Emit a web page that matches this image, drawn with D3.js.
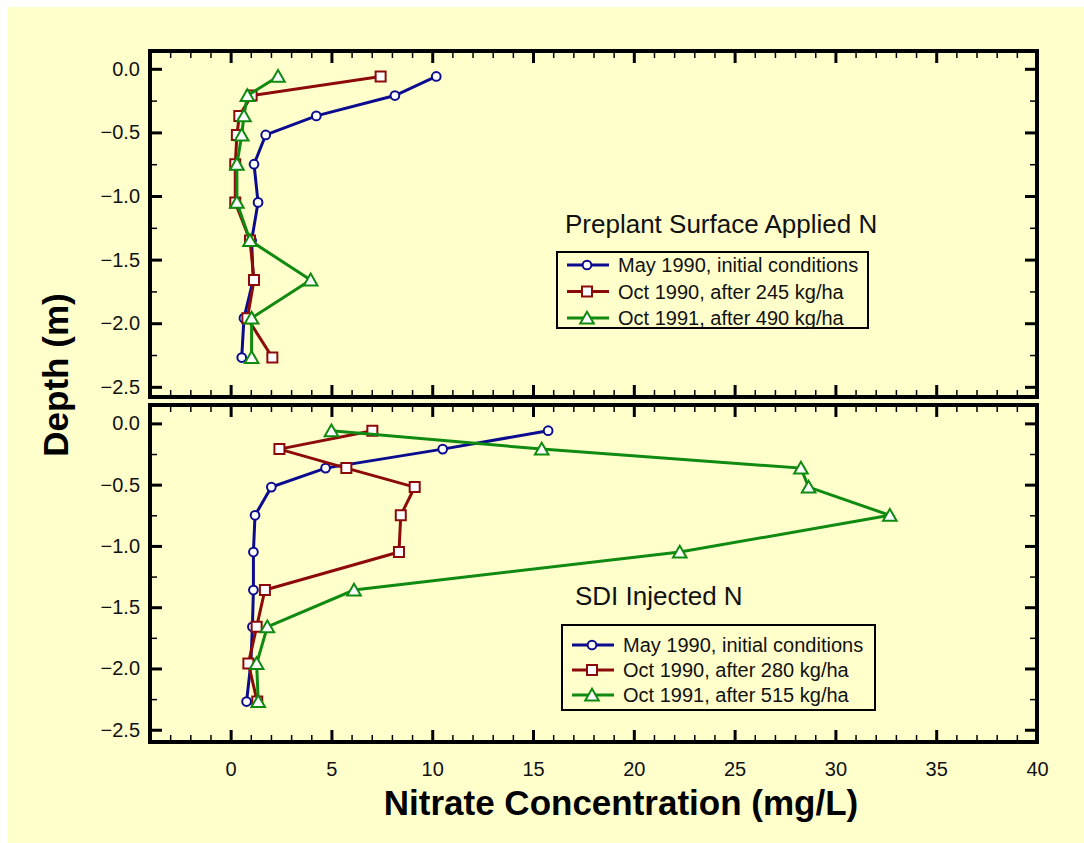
<!DOCTYPE html>
<html>
<head>
<meta charset="utf-8">
<script src="https://cdn.jsdelivr.net/npm/d3@7"></script>
<style>
  body { margin: 0; background: #ffffff; }
  text { font-family: "Liberation Sans", Arial, sans-serif; }
</style>
</head>
<body>
<div id="chart"></div>
<script>
// depth (m) of each sample, and nitrate (mg/L) for each date
const depthTop = [-0.06, -0.21, -0.37, -0.52, -0.75, -1.05, -1.35, -1.66, -1.96, -2.27];
const may90Top = [10.2, 8.15, 4.25, 1.74, 1.16, 1.36, 1.04, 1.12, 0.66, 0.55];
const oct90Top = [7.44, 1.04, 0.43, 0.31, 0.23, 0.23, 0.96, 1.16, 0.83, 2.07];
const oct91Top = [2.35, 0.83, 0.66, 0.55, 0.31, 0.31, 0.96, 3.97, 1.04, 1.04];

const depthBottom = [-0.06, -0.21, -0.365, -0.52, -0.75, -1.05, -1.36, -1.66, -1.96, -2.27];
const may90Bottom = [15.75, 10.52, 4.71, 2.02, 1.21, 1.13, 1.13, 1.08, 1.0, 0.79];
const oct90Bottom = [7.03, 2.42, 5.74, 9.13, 8.44, 8.35, 1.7, 1.29, 0.88, 1.32];
const oct91Bottom = [5.0, 15.43, 28.29, 28.67, 32.7, 22.28, 6.12, 1.82, 1.29, 1.37];

const labelsTop = ["May 1990, initial conditions", "Oct 1990, after 245 kg/ha", "Oct 1991, after 490 kg/ha"];
const labelsBottom = ["May 1990, initial conditions", "Oct 1990, after 280 kg/ha", "Oct 1991, after 515 kg/ha"];

const xTicks = [0, 5, 10, 15, 20, 25, 30, 35, 40];
const yTicks = [0, -0.5, -1, -1.5, -2, -2.5];

const colors = ["#0b0b8f", "#8c0a0a", "#108a10"];
const symbols = [d3.symbolCircle, d3.symbolSquare, d3.symbolTriangle];
const symbolSizes = [60, 100, 80];
const bg = "#ffffcc";

const width = 1084, height = 843;

const svg = d3.select("#chart").append("svg")
  .attr("width", width)
  .attr("height", height);

svg.append("rect")
  .attr("x", 8).attr("y", 7)
  .attr("width", width - 8).attr("height", height - 7)
  .attr("fill", bg);

const x = d3.scaleLinear().domain([-4, 40]).range([150, 1037]);
const minorX = d3.range(-3, 40, 1).filter(d => d % 5 !== 0);

function drawPanel(cfg) {
  const y = d3.scaleLinear().domain(cfg.yDomain).range([cfg.bottom, cfg.top]);
  const minorY = [-0.25, -0.75, -1.25, -1.75, -2.25];
  const g = svg.append("g");

  // inward ticks on all four sides
  const axes = [
    [d3.axisLeft(y).tickValues(yTicks).tickFormat(d3.format(".1f")).tickPadding(10), `translate(${x.range()[0]},0)`],
    [d3.axisRight(y).tickValues(yTicks).tickFormat(""), `translate(${x.range()[1]},0)`],
    [d3.axisBottom(x).tickValues(xTicks).tickFormat(cfg.xLabels ? d3.format("d") : "").tickPadding(20), `translate(0,${cfg.bottom})`],
    [d3.axisTop(x).tickValues(xTicks).tickFormat(""), `translate(0,${cfg.top})`],
  ];
  axes.forEach(([ax, tr]) => {
    const a = g.append("g").attr("transform", tr)
      .call(ax.tickSize(-12));
    a.select(".domain").remove();
    a.selectAll(".tick line").attr("stroke", "#000").attr("stroke-width", 3);
    a.selectAll(".tick text").attr("font-size", 20).attr("fill", "#111");
  });
  const minors = [
    [d3.axisLeft(y).tickValues(minorY), `translate(${x.range()[0]},0)`],
    [d3.axisRight(y).tickValues(minorY), `translate(${x.range()[1]},0)`],
    [d3.axisBottom(x).tickValues(minorX), `translate(0,${cfg.bottom})`],
    [d3.axisTop(x).tickValues(minorX), `translate(0,${cfg.top})`],
  ];
  minors.forEach(([ax, tr]) => {
    const a = g.append("g").attr("transform", tr)
      .call(ax.tickSize(-7).tickFormat(""));
    a.select(".domain").remove();
    a.selectAll(".tick line").attr("stroke", "#000").attr("stroke-width", 1.5);
  });

  // frame
  g.append("rect")
    .attr("x", x.range()[0]).attr("y", cfg.top)
    .attr("width", x.range()[1] - x.range()[0])
    .attr("height", cfg.bottom - cfg.top)
    .attr("fill", "none")
    .attr("stroke", "#000")
    .attr("stroke-width", 4);

  const line = d3.line().x(d => x(d[0])).y(d => y(d[1]));

  cfg.series.forEach((vals, i) => {
    const pts = vals.map((v, j) => [v, cfg.depth[j]]);
    g.append("path")
      .datum(pts)
      .attr("d", line)
      .attr("fill", "none")
      .attr("stroke", colors[i])
      .attr("stroke-width", 3);
    g.selectAll(null)
      .data(pts)
      .enter()
      .append("path")
      .attr("d", d3.symbol().type(symbols[i]).size(symbolSizes[i]))
      .attr("transform", d => `translate(${x(d[0])},${y(d[1]) + (i === 2 ? 1.5 : 0)})`)
      .attr("fill", "#fff")
      .attr("stroke", colors[i])
      .attr("stroke-width", 2);
  });

  g.append("text")
    .attr("x", cfg.title[1]).attr("y", cfg.title[2])
    .attr("font-size", 26)
    .attr("fill", "#111")
    .text(cfg.title[0]);

  // legend
  const L = cfg.legend;
  g.append("rect")
    .attr("x", L.x).attr("y", L.y)
    .attr("width", L.w).attr("height", L.h)
    .attr("fill", bg)
    .attr("stroke", "#000")
    .attr("stroke-width", 2);
  cfg.labels.forEach((lab, i) => {
    const ry = L.y + L.first + i * L.step;
    g.append("line")
      .attr("x1", L.x + 10).attr("x2", L.x + 52)
      .attr("y1", ry).attr("y2", ry)
      .attr("stroke", colors[i]).attr("stroke-width", 3);
    g.append("path")
      .attr("d", d3.symbol().type(symbols[i]).size(symbolSizes[i]))
      .attr("transform", `translate(${L.x + 30},${ry + (i === 2 ? 1.5 : 0)})`)
      .attr("fill", "#fff")
      .attr("stroke", colors[i])
      .attr("stroke-width", 2);
    g.append("text")
      .attr("x", L.x + 61).attr("y", ry + 7)
      .attr("font-size", 20)
      .attr("fill", "#111")
      .text(lab);
  });
}

drawPanel({
  top: 51, bottom: 397, yDomain: [-2.58, 0.14],
  depth: depthTop, series: [may90Top, oct90Top, oct91Top],
  labels: labelsTop, xLabels: false,
  title: ["Preplant Surface Applied N", 565, 233],
  legend: { x: 557, y: 252, w: 311, h: 76, first: 13, step: 26.5 },
});

drawPanel({
  top: 405, bottom: 742, yDomain: [-2.6, 0.15],
  depth: depthBottom, series: [may90Bottom, oct90Bottom, oct91Bottom],
  labels: labelsBottom, xLabels: true,
  title: ["SDI Injected N", 575, 605],
  legend: { x: 562, y: 625, w: 313, h: 85, first: 20, step: 25 },
});

// axis titles
svg.append("text")
  .attr("x", 621).attr("y", 815)
  .attr("text-anchor", "middle")
  .attr("font-size", 35)
  .attr("font-weight", "bold")
  .attr("fill", "#000")
  .text("Nitrate Concentration (mg/L)");

svg.append("text")
  .attr("transform", "translate(68,375) rotate(-90)")
  .attr("text-anchor", "middle")
  .attr("font-size", 35)
  .attr("font-weight", "bold")
  .attr("fill", "#000")
  .text("Depth (m)");
</script>
</body>
</html>
